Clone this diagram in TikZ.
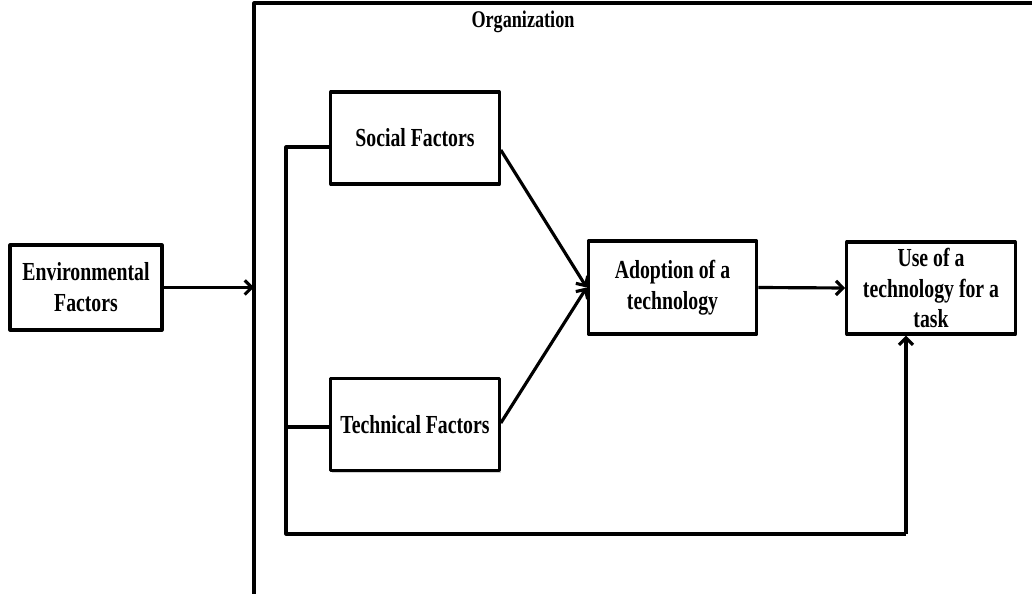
\documentclass[tikz,border=0pt]{standalone}
\usepackage{fontspec}
\setmainfont{Liberation Serif}[FakeStretch=0.76]
\usetikzlibrary{shadows,arrows.meta}
\tikzset{
	factor/.style={draw, line width=1.8pt, fill=white, align=center, inner sep=0pt,
		minimum width=3.37cm, minimum height=1.84cm,
		drop shadow={shadow xshift=0.8pt, shadow yshift=-1.2pt, opacity=0.35}},
}
\begin{document}
\begin{tikzpicture}[x=0.02cm, y=-0.02cm, >={Straight Barb[length=4pt,width=8pt]}, line width=1.8pt, line join=round,
	font=\bfseries\fontsize{14.8}{17.6}\selectfont]
	\useasboundingbox (0,0) rectangle (1032,594);
	% khung Organization
	\draw (254,594) |- (1032,3);
	\coordinate (orgL) at (254,0);
	\node[font=\bfseries\fontsize{13.6}{16}\selectfont] (org) at (523,22) {Organization};
	% cac hop
	\node[factor, minimum width=3.04cm, minimum height=1.7cm] (env) at (86,287.5) {Environmental\\Factors};
	\node[factor] (soc) at (415,138) {Social Factors};
	\node[factor] (tec) at (415,424.5) {Technical Factors};
	\node[factor, minimum height=1.86cm] (ado) at (672.5,287.5) {Adoption of a\\technology};
	\node[factor] (use) at (931,288) {Use of a\\technology for a\\task};
	% duong noi
	\coordinate (bl) at (286,534);
	\coordinate (br) at (906,534);
	\draw[->] (env.east) -- (env.east -| orgL);
	\draw ([yshift=-0.18cm]soc.west) -| (bl) -- (br);
	\draw ([yshift=-0.05cm]tec.west) -- ([yshift=-0.05cm]tec.west -| bl);
	\draw[->] (br) -- (use.south -| br);
	\draw[->] ([yshift=-0.24cm]soc.east) -- (ado.west);
	\draw[->] ([yshift=0.03cm]tec.east) -- (ado.west);
	\draw[->] (ado.east) -- (use.west);
\end{tikzpicture}
\end{document}
